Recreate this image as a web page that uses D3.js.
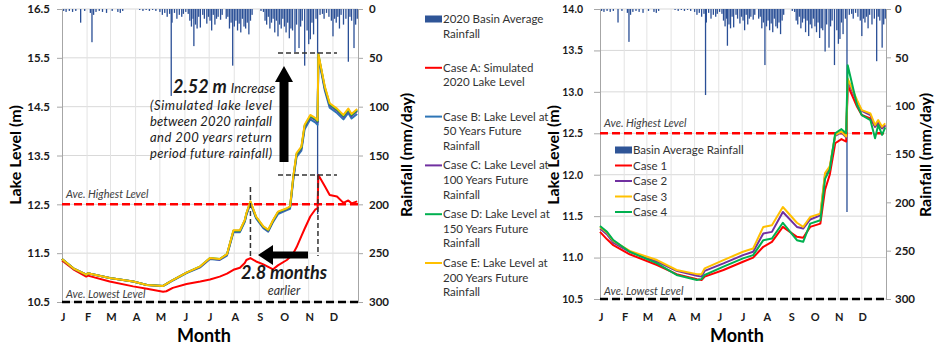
<!DOCTYPE html>
<html>
<head>
<meta charset="utf-8">
<script src="https://cdn.jsdelivr.net/npm/d3@7"></script>
<style>
body {margin: 0; background: #fff;}
text {font-family: Lato, "Open Sans", sans-serif;}
</style>
</head>
<body>
<div id="canvas"></div>
<script>
"use strict"

// month letters on the x axis and the day each month starts (2020)
let monthLabels = ["J","F","M","A","M","J","J","A","S","O","N","D"];
let monthStartDays = [0,31,60,91,121,152,182,213,244,274,305,335];

// basin average rainfall, [day of year, mm/day], rainy days only
let rainfall = [[2,2],[5,3],[9,2],[13,3],[17,2],[23,14],[28,2],[35,4],[37,34],[39,6],[42,3],[46,2],[50,3],[55,4],
  [62,2],[69,3],[72,4],[75,2],[96,1],[100,2],[104,1],[108,2],[112,1],[116,2],[121,3],[124,6],[127,4],[130,8],
  [133,5],[135,89],[136,14],[139,4],[142,10],[145,6],[148,8],[150,5],[153,3],[156,5],[158,12],[160,18],[162,10],
  [163,38],[165,16],[167,20],[169,8],[171,19],[174,6],[176,10],[179,15],[181,8],[183,12],[185,22],[187,6],[189,16],
  [191,10],[193,8],[196,11],[198,6],[203,10],[205,8],[207,20],[209,14],[211,58],[213,18],[215,12],[217,22],[219,15],
  [221,24],[223,10],[225,18],[227,20],[229,14],[231,26],[233,12],[235,6],[246,2],[249,3],[251,12],[253,16],[255,8],
  [257,20],[259,14],[261,10],[263,24],[265,12],[267,28],[269,16],[271,20],[273,10],[275,18],[277,24],[279,14],
  [281,30],[283,20],[285,22],[288,44],[290,16],[293,40],[295,18],[297,12],[300,58],[303,22],[305,36],[307,31],
  [309,14],[311,26],[314,10],[316,210],[319,6],[322,5],[324,10],[327,4],[330,8],[333,12],[335,28],[337,10],
  [339,14],[341,8],[343,20],[345,6],[348,16],[351,10],[354,54],[356,8],[358,12],[361,40],[363,16],[365,10]];

// left chart: lake level (m) for cases A to E
let leftDays = [0,14,30,32,59,88,105,125,129,137,154,171,183,195,204,212,220,226,228,233,
  240,249,255,261,267,278,282,286,290,296,300,307,313,316,317,325,331,340,348,354,358,365];
let caseA = [11.35,11.17,11.02,11.04,10.92,10.82,10.77,10.71,10.72,10.79,10.87,10.92,10.96,11.02,11.08,11.16,11.20,11.30,11.36,11.40,
  11.33,11.27,11.22,11.17,11.25,11.36,11.42,11.50,11.62,11.85,12.00,12.25,12.39,12.42,13.10,12.87,12.69,12.66,12.53,12.58,12.52,12.56];
let caseB = [11.38,11.19,11.06,11.09,10.99,10.92,10.85,10.83,10.86,10.94,11.09,11.21,11.38,11.36,11.45,11.93,11.93,12.14,12.28,12.52,
  12.21,12.01,11.94,12.14,12.30,12.38,12.41,13.00,13.47,13.60,14.04,14.24,14.18,14.13,15.52,14.83,14.48,14.37,14.24,14.37,14.26,14.35];
let caseC = [11.38,11.19,11.06,11.09,10.99,10.92,10.85,10.83,10.87,10.95,11.10,11.22,11.39,11.37,11.47,11.95,11.95,12.16,12.30,12.54,
  12.23,12.03,11.96,12.16,12.33,12.40,12.44,13.04,13.51,13.64,14.09,14.29,14.23,14.18,15.55,14.87,14.53,14.42,14.29,14.42,14.31,14.41];
let caseD = [11.38,11.19,11.06,11.09,10.99,10.92,10.85,10.83,10.87,10.95,11.10,11.23,11.40,11.38,11.48,11.96,11.96,12.17,12.31,12.55,
  12.24,12.04,11.97,12.17,12.34,12.41,12.45,13.06,13.53,13.66,14.11,14.31,14.25,14.20,15.57,14.89,14.55,14.44,14.31,14.44,14.33,14.43];
let caseE = [11.38,11.19,11.06,11.09,10.99,10.92,10.85,10.83,10.87,10.95,11.10,11.23,11.40,11.38,11.48,11.97,11.97,12.18,12.32,12.56,
  12.25,12.05,11.98,12.18,12.35,12.42,12.46,13.07,13.55,13.68,14.13,14.33,14.27,14.22,15.58,14.91,14.57,14.46,14.33,14.46,14.35,14.45];

// right chart: lake level (m) for cases 1 to 4
let rightDays = [0,9,17,38,73,98,124,130,134,158,183,196,209,220,234,252,260,269,282,288,
  294,301,309,315,317,329,335,346,352,356,361,365];
let case1 = [11.31,11.22,11.15,11.04,10.91,10.80,10.74,10.73,10.77,10.85,10.95,11.00,11.13,11.19,11.37,11.25,11.24,11.37,11.41,11.82,
  12.00,12.38,12.43,12.40,13.08,12.82,12.72,12.68,12.58,12.62,12.56,12.59];
let case2 = [11.35,11.28,11.18,11.07,10.95,10.84,10.78,10.77,10.84,10.93,11.03,11.07,11.29,11.31,11.55,11.37,11.35,11.46,11.51,12.00,
  12.08,12.47,12.51,12.45,13.14,12.88,12.77,12.72,12.58,12.64,12.56,12.60];
let case3 = [11.37,11.30,11.20,11.08,10.97,10.85,10.80,10.80,10.87,10.97,11.07,11.11,11.37,11.39,11.61,11.42,11.37,11.49,11.53,12.02,
  12.10,12.48,12.52,12.46,13.16,12.90,12.78,12.74,12.60,12.66,12.58,12.62];
let case4 = [11.38,11.31,11.21,11.07,10.93,10.79,10.73,10.74,10.79,10.89,10.99,11.03,11.21,11.23,11.42,11.21,11.19,11.41,11.45,11.95,
  12.06,12.50,12.55,12.50,13.32,12.84,12.72,12.66,12.44,12.60,12.48,12.57];

// axis ticks and reference levels
let leftLevelTicks = [10.5,11.5,12.5,13.5,14.5,15.5,16.5];
let rightLevelTicks = [10.5,11,11.5,12,12.5,13,13.5,14];
let rainTicks = [0,50,100,150,200,250,300];
let aveHighest = 12.5;
let aveLowest = 10.5;

let drawing = d3.select("#canvas")
    .append("svg")
    .attr("width", 937)
    .attr("height", 348);

/* scales for the two charts */
let xLeft = d3.scaleLinear().domain([0, 366]).range([62, 358]);
let yLeft = d3.scaleLinear().domain([10.5, 16.5]).range([302, 9]);
let rainLeft = d3.scaleLinear().domain([0, 300]).range([9, 302]);

let xRight = d3.scaleLinear().domain([0, 366]).range([600, 886]);
let yRight = d3.scaleLinear().domain([10.5, 14]).range([299, 9]);
let rainRight = d3.scaleLinear().domain([0, 300]).range([9, 299]);

/* grid, rainfall bars, axes and reference lines of one chart */
function drawFrame(x, y, rain, levelTicks, opt) {
  let g = drawing.append("g");
  let x0 = x.range()[0], x1 = x.range()[1];
  let yTop = y.range()[1], yBottom = y.range()[0];

  // horizontal grid
  g.selectAll(".hgrid").data(levelTicks).join("line")
    .attr("x1", x0).attr("x2", x1)
    .attr("y1", d => y(d)).attr("y2", d => y(d))
    .attr("stroke", "#d9d9d9").attr("stroke-width", 1);

  // month grid
  g.selectAll(".vgrid").data(monthStartDays.slice(1)).join("line")
    .attr("x1", d => x(d)).attr("x2", d => x(d))
    .attr("y1", yTop).attr("y2", yBottom)
    .attr("stroke", "#e3e3e3").attr("stroke-width", 1);

  // rainfall hanging from the top
  g.selectAll(".bar").data(rainfall).join("rect")
    .attr("x", d => x(d[0]) - 0.6)
    .attr("y", rain(0))
    .attr("width", 1.3)
    .attr("height", d => rain(d[1]) - rain(0))
    .attr("fill", "#2a4f96");

  // lake level axis (left)
  let leftAxis = g.append("g")
    .attr("transform", "translate(" + x0 + ",0)")
    .call(d3.axisLeft(y).tickValues(levelTicks).tickFormat(d3.format(".1f"))
      .tickSizeOuter(0).tickSize(opt.leftTick).tickPadding(opt.leftPad));
  // rainfall axis (right)
  let rightAxis = g.append("g")
    .attr("transform", "translate(" + x1 + ",0)")
    .call(d3.axisRight(rain).tickValues(rainTicks)
      .tickSizeOuter(0).tickSize(5).tickPadding(opt.rightPad));
  [leftAxis, rightAxis].forEach(a => {
    a.select(".domain").attr("stroke", "#a6a6a6");
    a.selectAll(".tick line").attr("stroke", "#a6a6a6");
    a.selectAll(".tick text").attr("font-size", 11.5).attr("font-weight", "bold")
      .attr("fill", "#1a1a1a").style("font-family", "Lato, sans-serif");
  });
  leftAxis.selectAll(".tick text").attr("font-size", opt.leftFont);

  // month letters
  g.selectAll(".month").data(monthStartDays).join("text")
    .attr("x", (d, i) => x(d) + 1)
    .attr("y", 321)
    .attr("text-anchor", "middle")
    .attr("font-size", 11)
    .attr("font-weight", "bold")
    .attr("fill", "#1a1a1a")
    .text((d, i) => monthLabels[i]);

  // axis titles
  g.append("text")
    .attr("transform", "translate(" + opt.leftTitleX + ",155) rotate(-90)")
    .attr("text-anchor", "middle").attr("font-size", 16).attr("font-weight", "bold")
    .text("Lake Level (m)");
  g.append("text")
    .attr("transform", "translate(" + opt.rightTitleX + ",155) rotate(-90)")
    .attr("text-anchor", "middle").attr("font-size", 16).attr("font-weight", "bold")
    .text("Rainfall (mm/day)");
  g.append("text")
    .attr("x", (x0 + x1) / 2 - 6).attr("y", 342)
    .attr("text-anchor", "middle").attr("font-size", 18).attr("font-weight", "bold")
    .text("Month");

  // average highest and lowest levels
  g.append("line")
    .attr("x1", x0).attr("x2", x1)
    .attr("y1", y(aveHighest)).attr("y2", y(aveHighest))
    .attr("stroke", "#ff0000").attr("stroke-width", 2.5).attr("stroke-dasharray", "8,4");
  g.append("line")
    .attr("x1", x0).attr("x2", x1)
    .attr("y1", y(aveLowest)).attr("y2", y(aveLowest))
    .attr("stroke", "#000").attr("stroke-width", 2.5).attr("stroke-dasharray", "8,4");
  g.append("text")
    .attr("x", x0 + 4).attr("y", y(aveHighest) - 6)
    .attr("font-size", 11).attr("font-style", "italic").attr("fill", "#404040")
    .text("Ave. Highest Level");
  g.append("text")
    .attr("x", x0 + 4).attr("y", y(aveLowest) - 4)
    .attr("font-size", 11).attr("font-style", "italic").attr("fill", "#404040")
    .text("Ave. Lowest Level");
  return g;
}

let leftFrame = drawFrame(xLeft, yLeft, rainLeft, leftLevelTicks,
  {leftTick: 5, leftPad: 7, leftFont: 11.5, rightPad: 6, leftTitleX: 21, rightTitleX: 412});
let rightFrame = drawFrame(xRight, yRight, rainRight, rightLevelTicks,
  {leftTick: 6, leftPad: 11, leftFont: 10.5, rightPad: 4, leftTitleX: 559, rightTitleX: 931});

/* lake level lines */
let leftSeries = [
  {values: caseA, color: "#ff0000"},
  {values: caseB, color: "#2e75b6"},
  {values: caseC, color: "#7030a0"},
  {values: caseD, color: "#00b050"},
  {values: caseE, color: "#ffc000"}
];
let rightSeries = [
  {values: case1, color: "#ff0000"},
  {values: case2, color: "#7030a0"},
  {values: case3, color: "#ffc000"},
  {values: case4, color: "#00b050"}
];

let leftLine = d3.line().x((d, i) => xLeft(leftDays[i])).y(d => yLeft(d));
let rightLine = d3.line().x((d, i) => xRight(rightDays[i])).y(d => yRight(d));

leftFrame.selectAll(".level").data(leftSeries).join("path")
  .attr("d", d => leftLine(d.values))
  .attr("fill", "none").attr("stroke", d => d.color)
  .attr("stroke-width", 2).attr("stroke-linejoin", "round");
rightFrame.selectAll(".level").data(rightSeries).join("path")
  .attr("d", d => rightLine(d.values))
  .attr("fill", "none").attr("stroke", d => d.color)
  .attr("stroke-width", 2).attr("stroke-linejoin", "round");

/* left legend, outside the plot */
let leftLegend = [
  {color: "#2f5597", bar: true, lines: ["2020 Basin Average", "Rainfall"]},
  {color: "#ff0000", lines: ["Case A: Simulated", "2020 Lake Level"]},
  {color: "#2e75b6", lines: ["Case B: Lake Level at", "50 Years Future", "Rainfall"]},
  {color: "#7030a0", lines: ["Case C: Lake Level at", "100 Years Future", "Rainfall"]},
  {color: "#00b050", lines: ["Case D: Lake Level at", "150 Years Future", "Rainfall"]},
  {color: "#ffc000", lines: ["Case E: Lake Level at", "200 Years Future", "Rainfall"]}
];
leftLegend.forEach((item, i) => {
  let yy = 19 + i * 48.8;
  if (item.bar) {
    drawing.append("rect").attr("x", 425).attr("y", yy - 3.5).attr("width", 17).attr("height", 7)
      .attr("fill", item.color);
  } else {
    drawing.append("line").attr("x1", 425).attr("x2", 442).attr("y1", yy).attr("y2", yy)
      .attr("stroke", item.color).attr("stroke-width", 2);
  }
  item.lines.forEach((t, j) => {
    drawing.append("text")
      .attr("x", 443).attr("y", yy + 4 + j * 14.6)
      .attr("font-size", 11.5).attr("fill", "#333")
      .text(t);
  });
});

/* right legend, inside the plot */
let rightLegend = [
  {color: "#2f5597", bar: true, label: "Basin Average Rainfall"},
  {color: "#ff0000", label: "Case 1"},
  {color: "#7030a0", label: "Case 2"},
  {color: "#ffc000", label: "Case 3"},
  {color: "#00b050", label: "Case 4"}
];
rightLegend.forEach((item, i) => {
  let yy = 150 + i * 15.5;
  if (item.bar) {
    drawing.append("rect").attr("x", 615).attr("y", yy - 3.5).attr("width", 17).attr("height", 7)
      .attr("fill", item.color);
  } else {
    drawing.append("line").attr("x1", 615).attr("x2", 632).attr("y1", yy).attr("y2", yy)
      .attr("stroke", item.color).attr("stroke-width", 2);
  }
  drawing.append("text")
    .attr("x", 633).attr("y", yy + 4)
    .attr("font-size", 11.5).attr("fill", "#333")
    .text(item.label);
});

/* annotations on the left chart */
let peakE = 15.6, peakA = 13.1;
let earlyPeakDay = 233, latePeakDay = 316.5;

// dashed marks of the two peaks
drawing.append("line")
  .attr("x1", 278).attr("x2", 337).attr("y1", yLeft(peakE)).attr("y2", yLeft(peakE))
  .attr("stroke", "#333").attr("stroke-width", 1.5).attr("stroke-dasharray", "5,3");
drawing.append("line")
  .attr("x1", 278).attr("x2", 337).attr("y1", yLeft(peakA)).attr("y2", yLeft(peakA))
  .attr("stroke", "#333").attr("stroke-width", 1.5).attr("stroke-dasharray", "5,3");
drawing.append("line")
  .attr("x1", xLeft(earlyPeakDay)).attr("x2", xLeft(earlyPeakDay)).attr("y1", 187).attr("y2", 256)
  .attr("stroke", "#333").attr("stroke-width", 1.5).attr("stroke-dasharray", "5,3");
drawing.append("line")
  .attr("x1", xLeft(latePeakDay)).attr("x2", xLeft(latePeakDay)).attr("y1", yLeft(peakA)).attr("y2", 256)
  .attr("stroke", "#333").attr("stroke-width", 1.5).attr("stroke-dasharray", "5,3");

// big up arrow
drawing.append("polygon")
  .attr("points", "279.5,162 288.5,162 288.5,82 293,82 284,66 275,82 279.5,82")
  .attr("fill", "#000");
// left arrow
drawing.append("polygon")
  .attr("points", "308,251.5 273,251.5 273,245 258,255 273,265 273,258.5 308,258.5")
  .attr("fill", "#000");

// text of the increase
let incText = drawing.append("text").attr("x", 173).attr("y", 93).attr("fill", "#1a1a1a");
incText.append("tspan").attr("font-size", 18).attr("font-weight", "bold").attr("font-style", "italic").text("2.52 m");
incText.append("tspan").attr("font-size", 13).attr("font-style", "italic").attr("dx", 4).text("Increase");

let noteLines = ["(Simulated lake level", "between 2020 rainfall", "and 200 years return", "period future rainfall)"];
noteLines.forEach((t, i) => {
  drawing.append("text")
    .attr("x", 150).attr("y", 110 + i * 16)
    .attr("font-size", 13).attr("font-style", "italic").attr("fill", "#1a1a1a")
    .attr("textLength", 122).attr("lengthAdjust", "spacing")
    .text(t);
});

drawing.append("text")
  .attr("x", 284).attr("y", 279)
  .attr("text-anchor", "middle").attr("font-size", 18).attr("font-weight", "bold").attr("font-style", "italic")
  .attr("fill", "#1a1a1a")
  .text("2.8 months");
drawing.append("text")
  .attr("x", 284).attr("y", 295)
  .attr("text-anchor", "middle").attr("font-size", 12.5).attr("font-style", "italic").attr("fill", "#333")
  .text("earlier");
</script>
</body>
</html>
